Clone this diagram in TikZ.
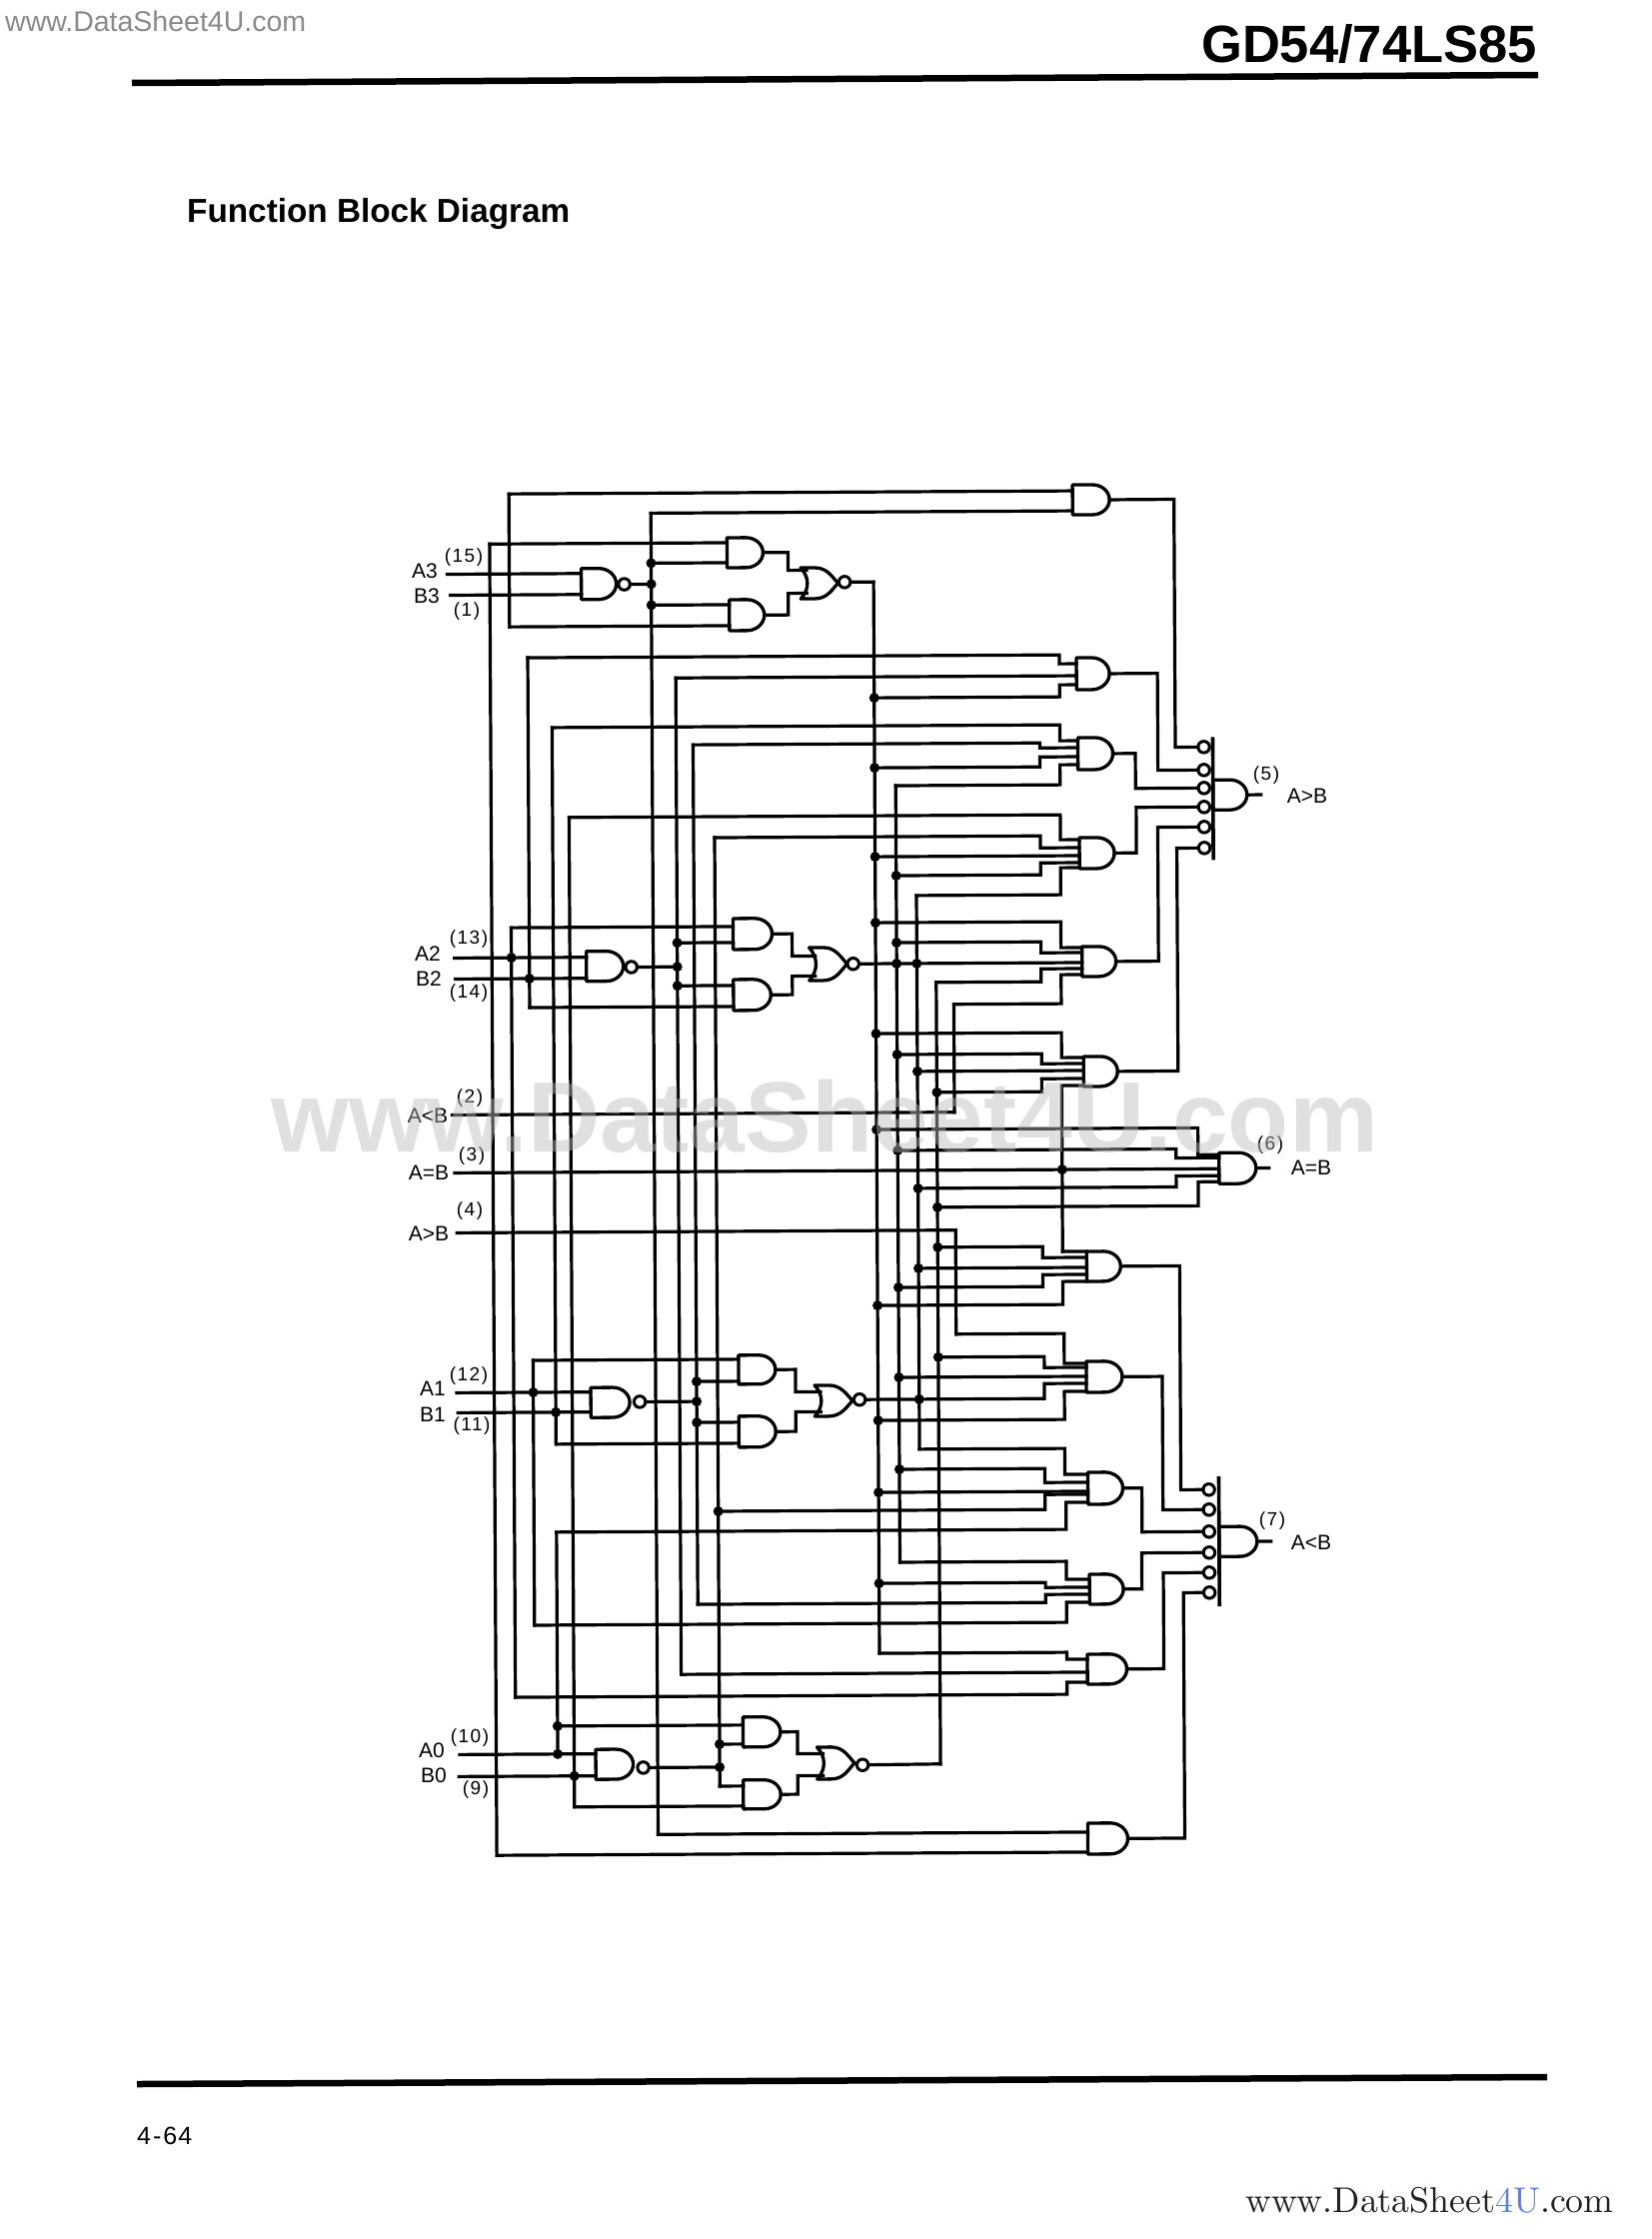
\documentclass[tikz,border=0pt]{standalone}
\usepackage{fontspec}
\newfontfamily\lib{Liberation Sans}
\definecolor{wmgray}{HTML}{BBBBBB}
\definecolor{urlgray}{HTML}{8A8A8A}
\definecolor{urldark}{HTML}{222222}
\definecolor{urlblue}{HTML}{5B7FEE}
\tikzset{
  wire/.style={line width=3.2pt,line cap=rect,line join=miter},
  gateline/.style={line width=3.3pt,line join=round},
  gatenode/.style={inner sep=0pt,outer sep=0pt},
  bub/.style={circle,draw,fill=white,line width=3pt,minimum size=11.5pt,inner sep=0pt,outer sep=0pt},
  lab/.style={font=\lib\fontsize{21}{24}\selectfont,inner sep=0pt},
  pinlab/.style={font=\lib\fontsize{19}{22}\selectfont\addfontfeature{LetterSpace=8},inner sep=0pt},
}
\newcommand\defrail[2]{\expandafter\gdef\csname rx@#1\endcsname{#2}}
\newcommand\tapc[2]{\coordinate (#1@#2) at (\csname rx@#1\endcsname,#2);}
\newcommand\rail[3]{\tapc{#1}{#2}\tapc{#1}{#3}\draw[wire] (#1@#2) -- (#1@#3);}
\newcommand\sw[3]{\tapc{#1}{#2}\coordinate (#3p#2) at (\csname gl@#3\endcsname,#2);\draw[wire] (#1@#2) -- (#3p#2);}
\newcommand\jw[5]{\tapc{#1}{#2}\coordinate (#5p#4) at (\csname gl@#5\endcsname,#4);\draw[wire] (#1@#2) -- (#3,#2) -- (#3,#4) -- (#5p#4);}
\newcommand\dt[2]{\fill (#1@#2) circle[radius=5pt];}
\newcommand\andg[5]{%
  \expandafter\gdef\csname gl@#1\endcsname{#2}%
  \pgfmathsetmacro\gm{(#3+#4)/2}%
  \expandafter\xdef\csname gm@#1\endcsname{\gm}%
  \pgfmathsetmacro\gf{#5-(#4-#3)/2-2}%
  \pgfmathsetmacro\gcx{\gf+0.55*(#5-\gf)}%
  \pgfmathsetmacro\gcu{\gm-0.55*(#4-#3)/2}%
  \pgfmathsetmacro\gcd{\gm+0.55*(#4-#3)/2}%
  \pgfmathsetmacro\gc{(#2+#5)/2}%
  \draw[gateline] (#2,#3) -- (\gf,#3) .. controls (\gcx,#3) and (#5,\gcu) .. (#5,\gm) .. controls (#5,\gcd) and (\gcx,#4) .. (\gf,#4) -- (#2,#4) -- cycle;
  \node[gatenode,minimum width={(#5-#2)*1pt},minimum height={(#4-#3)*1pt}] (#1) at (\gc,\gm) {};
}
\newcommand\norg[5]{%
  \pgfmathsetmacro\gl{#2+6}%
  \expandafter\xdef\csname gl@#1\endcsname{\gl}%
  \pgfmathsetmacro\gm{(#3+#4)/2}%
  \pgfmathsetmacro\gh{#4-#3}%
  \pgfmathsetmacro\ga{#2+9}%
  \pgfmathsetmacro\gb{#2+14}%
  \pgfmathsetmacro\gd{#2+27}%
  \pgfmathsetmacro\ge{#5-6}%
  \pgfmathsetmacro\gu{#3+0.3*\gh}%
  \pgfmathsetmacro\gv{#4-0.3*\gh}%
  \pgfmathsetmacro\gw{\gm-6}%
  \pgfmathsetmacro\gx{\gm+6}%
  \pgfmathsetmacro\gc{(#2+#5)/2}%
  \draw[gateline] (#2,#3) .. controls (\ga,\gu) and (\ga,\gv) .. (#2,#4) -- (\gb,#4) .. controls (\gd,#4) and (\ge,\gx) .. (#5,\gm) .. controls (\ge,\gw) and (\gd,#3) .. (\gb,#3) -- cycle;
  \node[gatenode,minimum width={(#5-#2)*1pt},minimum height={(#4-#3)*1pt}] (#1) at (\gc,\gm) {};
}
\newcommand\ow[4]{\draw[wire] (#1.east) -- (#2,\csname gm@#1\endcsname) -- (#2,#3) -- (#4.west);}
\newcommand\andout[4]{\draw[wire] (#1.east) -- (#2,\csname gm@#1\endcsname) -- (#2,#3) -- (#4);}
\begin{document}
\begin{tikzpicture}[x=1pt,y=-1pt]
\useasboundingbox (0,0) rectangle (1653,2240);
\fill[white] (0,0) rectangle (1653,2240);

% rails
\defrail{L}{493.5}\defrail{Ba}{513}\defrail{Bb}{513}\defrail{D}{531}\defrail{H}{532.5}
\defrail{E}{555}\defrail{Hh}{555}\defrail{F}{571.5}\defrail{C}{655}\defrail{I}{679}
\defrail{J}{696}\defrail{K}{717}\defrail{S}{877.5}\defrail{T}{898.5}\defrail{U}{918.7}
\defrail{V}{938}\defrail{W}{955.5}\defrail{Z}{956}\defrail{Y}{1063}
\defrail{iAt}{451}\defrail{iBt}{454}\defrail{iAs}{456}\defrail{iBs}{457}\defrail{iAo}{456}\defrail{iBo}{457}\defrail{iAz}{457}\defrail{iBz}{456}
\defrail{iL}{453}\defrail{iE}{455}\defrail{iG}{457}\defrail{ot}{861}\defrail{oo}{865}

\begin{scope}[rotate around={0.315:(900,1200)}]
% stage 3
\andg{N3}{585}{567}{598}{620}\node[bub] (N3b) at (628,583) {};
\andg{A3u}{731}{537}{567}{767}\andg{A3d}{733}{599}{630}{768}
\norg{O3}{804.5}{567.5}{598.5}{842}\node[bub] (O3b) at (848.5,582) {};
% stage 2
\andg{N2}{588}{950}{980}{625}\node[bub] (N2b) at (633,966) {};
\andg{A2u}{735}{918}{949}{774}\andg{A2d}{735}{979}{1010}{772.5}
\norg{O2}{811}{947.5}{980.5}{849}\node[bub] (O2b) at (855,964) {};
% stage 1
\andg{N1}{590}{1386.5}{1416.5}{629}\node[bub] (N1b) at (639,1401) {};
\andg{A1u}{738}{1355}{1384}{775}\andg{A1d}{738}{1416}{1447}{775}
\norg{O1}{814}{1385.5}{1416.5}{852}\node[bub] (O1b) at (859,1400) {};
% stage 0
\andg{N0}{593}{1748.5}{1778.5}{630.5}\node[bub] (N0b) at (640.5,1767) {};
\andg{A0u}{740.5}{1717}{1747}{778}\andg{A0d}{740.5}{1780}{1809}{778}
\norg{O0}{814.5}{1747.5}{1779.5}{852}\node[bub] (O0b) at (860,1765.5) {};
% right-hand gates
\andg{G0}{1077}{486}{516}{1114}
\andg{G1}{1080}{659}{691}{1113}
\andg{G2}{1081}{739}{771}{1116}
\andg{G3}{1082}{839}{870}{1117}
\andg{G4}{1084}{948}{978}{1118}
\andg{G5}{1085}{1058}{1088}{1119}
\andg{G6}{1220}{1155}{1186}{1257}
\andg{G7}{1087}{1253}{1283}{1121}
\andg{G8}{1086}{1363}{1394}{1122}
\andg{G9}{1087}{1474}{1506}{1122}
\andg{G10}{1088}{1576}{1606}{1122}
\andg{G11}{1085.5}{1656}{1686}{1125}
\andg{G12}{1085}{1825}{1856}{1125}
\andg{OG}{1216}{782}{812}{1250}
\andg{OL}{1218}{1529}{1559}{1256}
% output bubbles and bars
\node[bub] (P1) at (1207,749) {};\node[bub] (P2) at (1207,772) {};\node[bub] (P3) at (1207,790) {};
\node[bub] (P4) at (1207,809) {};\node[bub] (P5) at (1207,829) {};\node[bub] (P6) at (1207,850) {};
\node[bub] (Q1) at (1208,1492) {};\node[bub] (Q2) at (1208,1512) {};\node[bub] (Q3) at (1208,1534) {};
\node[bub] (Q4) at (1208,1555) {};\node[bub] (Q5) at (1208,1575) {};\node[bub] (Q6) at (1208,1595) {};
\coordinate (barGt) at (1216,739);\coordinate (barGb) at (1216,862);
\coordinate (barLt) at (1218,1479);\coordinate (barLb) at (1218,1609);
\draw[line width=3.6pt] (barGt) -- (barGb);
\draw[line width=3.6pt] (barLt) -- (barLb);
\coordinate (outG) at (1264,797);\coordinate (outE) at (1270,1170.5);\coordinate (outL) at (1270,1544);
\draw[wire] (OG.east) -- (outG);\draw[wire] (G6.east) -- (outE);\draw[wire] (OL.east) -- (outL);

% vertical rails
\rail{L}{542}{1854}\rail{Ba}{492}{625}\rail{C}{512}{1834}\rail{D}{656}{1006}\rail{E}{726}{1443}
\rail{F}{816}{1806}\rail{Bb}{926}{1696}\rail{I}{677}{1674}\rail{J}{744}{1604}\rail{K}{837}{1786}
\rail{S}{582}{1654}\rail{T}{786}{1563}\rail{U}{896}{1450}\rail{V}{983}{1765}\rail{W}{1005}{1113}
\rail{Z}{1231}{1335}\rail{H}{1359}{1624}\rail{Hh}{1531}{1753}\rail{Y}{1087}{1253}

% inputs to the four bit stages
\sw{iAt}{572}{N3}\sw{iBt}{593}{N3}
\sw{iAs}{956}{N2}\sw{iBs}{977}{N2}
\sw{iAo}{1391}{N1}\sw{iBo}{1411}{N1}
\sw{iAz}{1753}{N0}\sw{iBz}{1775}{N0}
\tapc{iL}{1113}\tapc{iG}{1231}
\draw[wire] (iL@1113) -- (W@1113);
\draw[wire] (iG@1231) -- (Z@1231);
\sw{iE}{1171}{G6}
% stage 3 wiring
\tapc{C}{583}\draw[wire] (N3b.east) -- (C@583);
\sw{L}{542}{A3u}\sw{C}{562}{A3u}\sw{C}{604}{A3d}\sw{Ba}{625}{A3d}
\coordinate (O3a) at (810.5,570);\coordinate (O3c) at (810.5,593);
\andout{A3u}{792}{570}{O3a}\andout{A3d}{792}{593}{O3c}
\draw[wire] (O3b.east) -- (S@582);
% stage 2 wiring
\tapc{I}{966}\tapc{Bb}{956}\tapc{D}{977}\draw[wire] (N2b.east) -- (I@966);
\sw{Bb}{926}{A2u}\sw{I}{942}{A2u}\sw{I}{985}{A2d}\sw{D}{1006}{A2d}
\coordinate (O2a) at (817,956);\coordinate (O2c) at (817,976);
\andout{A2u}{794}{956}{O2a}\andout{A2d}{794}{976}{O2c}
% stage 1 wiring
\tapc{J}{1401}\tapc{H}{1391}\tapc{E}{1411}\draw[wire] (N1b.east) -- (J@1401);
\sw{H}{1359}{A1u}\sw{J}{1381}{A1u}\sw{J}{1422}{A1d}\sw{E}{1443}{A1d}
\coordinate (O1a) at (820,1392);\coordinate (O1c) at (820,1412);
\andout{A1u}{795}{1392}{O1a}\andout{A1d}{795}{1412}{O1c}
% stage 0 wiring
\tapc{K}{1767}\tapc{F}{1775}\draw[wire] (N0b.east) -- (K@1767);
\sw{Hh}{1725}{A0u}\sw{K}{1744}{A0u}\sw{K}{1786}{A0d}\sw{F}{1806}{A0d}
\coordinate (O0a) at (820.5,1754);\coordinate (O0c) at (820.5,1776);
\andout{A0u}{795}{1754}{O0a}\andout{A0d}{795}{1776}{O0c}
\draw[wire] (O0b.east) -- (V@1765);

% right-hand gate inputs
\sw{Ba}{492}{G0}\sw{C}{512}{G0}
\jw{D}{656}{1063}{665}{G1}\sw{I}{677}{G1}\jw{S}{698}{1063}{686}{G1}
\jw{E}{726}{1063}{742}{G2}\jw{J}{744}{1043}{749}{G2}\jw{S}{768}{1043}{758}{G2}\jw{T}{786}{1063}{766}{G2}
\jw{F}{816}{1063}{841}{G3}\jw{K}{837}{1043}{849}{G3}\sw{S}{857}{G3}\jw{T}{876}{1043}{864}{G3}\jw{U}{896}{1063}{869}{G3}
\jw{S}{923}{1063}{949}{G4}\jw{T}{943}{1043}{954}{G4}\defrail{oS}{861}\sw{oS}{964}{G4}\jw{V}{983}{1043}{970}{G4}\jw{W}{1005}{1063}{976}{G4}
\tapc{T}{964}\tapc{U}{964}
\jw{S}{1034}{1063}{1059}{G5}\jw{T}{1055}{1043}{1065}{G5}\sw{U}{1072}{G5}\jw{V}{1093}{1043}{1080}{G5}\sw{Y}{1087}{G5}
\jw{S}{1130}{1199}{1157}{G6}\jw{T}{1151}{1177}{1160}{G6}\jw{U}{1189}{1177}{1178}{G6}\jw{V}{1208}{1199}{1184}{G6}
\tapc{Y}{1171}
\sw{Y}{1253}{G7}\jw{V}{1248}{1043}{1259}{G7}\sw{U}{1269}{G7}\jw{T}{1288}{1043}{1276}{G7}\jw{S}{1306}{1063}{1283}{G7}
\jw{Z}{1335}{1064}{1365}{G8}\jw{V}{1358}{1044}{1369}{G8}\sw{T}{1378}{G8}\jw{oo}{1400}{1044}{1385}{G8}\jw{S}{1421}{1064}{1393}{G8}
\tapc{U}{1400}
\jw{U}{1450}{1064}{1476}{G9}\jw{T}{1470}{1044}{1484}{G9}\sw{S}{1493}{G9}\jw{K}{1511}{1044}{1496}{G9}\jw{Hh}{1531}{1065}{1504}{G9}
\jw{T}{1563}{1065}{1581}{G10}\jw{S}{1584}{1044}{1589}{G10}\jw{J}{1604}{1044}{1596}{G10}\jw{H}{1624}{1065}{1604}{G10}
\jw{S}{1654}{1065}{1661}{G11}\sw{I}{1674}{G11}\jw{Bb}{1696}{1065}{1684}{G11}
\sw{C}{1834}{G12}\sw{L}{1854}{G12}

% gate outputs to the wide gates
\ow{G0}{1178.5}{749}{P1}\ow{G1}{1161}{772}{P2}\ow{G2}{1138.5}{790}{P3}
\ow{G3}{1139}{809}{P4}\ow{G4}{1160.5}{829}{P5}\ow{G5}{1179.5}{850}{P6}
\ow{G7}{1180}{1492}{Q1}\ow{G8}{1162}{1512}{Q2}\ow{G9}{1141}{1534}{Q3}
\ow{G10}{1140.5}{1555}{Q4}\ow{G11}{1162}{1575}{Q5}\ow{G12}{1182}{1595}{Q6}

% junction dots
\foreach \y in {583,562,604} {\dt{C}{\y}}
\foreach \y in {942,966,985} {\dt{I}{\y}}
\foreach \y in {1381,1401,1422} {\dt{J}{\y}}
\foreach \y in {1511,1744,1767} {\dt{K}{\y}}
\foreach \y in {1725,1753} {\dt{Hh}{\y}}
\dt{Bb}{956}\dt{D}{977}\dt{H}{1391}\dt{E}{1411}\dt{F}{1775}\dt{Y}{1171}
\foreach \y in {698,768,857,923,1034,1130,1306,1421,1493,1584} {\dt{S}{\y}}
\foreach \y in {876,943,964,1055,1151,1288,1378,1470} {\dt{T}{\y}}
\foreach \y in {964,1072,1189,1269,1400} {\dt{U}{\y}}
\foreach \y in {1093,1208,1248,1358} {\dt{V}{\y}}
\end{scope}

% labels
\node[lab] (tA3) at (425,571) {A3};\node[pinlab] (p15) at (464,558) {(15)};
\node[lab] (tB3) at (427,596) {B3};\node[pinlab] (p1) at (467,612) {(1)};
\node[lab] (tA2) at (428,954) {A2};\node[pinlab] (p13) at (469,940) {(13)};
\node[lab] (tB2) at (429,979) {B2};\node[pinlab] (p14) at (469,994) {(14)};
\node[lab] (tLi) at (428,1116) {A<B};\node[pinlab] (p2) at (470,1099) {(2)};
\node[lab] (tEi) at (429,1173) {A=B};\node[pinlab] (p3) at (472,1157) {(3)};
\node[lab] (tGi) at (429,1234) {A>B};\node[pinlab] (p4) at (470,1212) {(4)};
\node[lab] (tA1) at (433,1389) {A1};\node[pinlab] (p12) at (469,1377) {(12)};
\node[lab] (tB1) at (433,1415) {B1};\node[pinlab] (p11) at (472,1427) {(11)};
\node[lab] (tA0) at (432,1751) {A0};\node[pinlab] (p10) at (470,1739) {(10)};
\node[lab] (tB0) at (434,1776) {B0};\node[pinlab] (p9) at (476,1791) {(9)};
\node[pinlab] (p5) at (1267,776) {(5)};\node[lab] (tGo) at (1308,796) {A>B};
\node[pinlab] (p6) at (1271,1146) {(6)};\node[lab] (tEo) at (1312,1168) {A=B};
\node[pinlab] (p7) at (1273,1522) {(7)};\node[lab] (tLo) at (1312,1543) {A<B};

% page furniture
\coordinate (ruleTl) at (132,83);\coordinate (ruleTr) at (1539,75);
\coordinate (ruleBl) at (137,2085);\coordinate (ruleBr) at (1548,2078);
\draw[line width=6.5pt] (ruleTl) -- (ruleTr);
\draw[line width=6.5pt] (ruleBl) -- (ruleBr);
\node[anchor=base east,inner sep=0pt,font=\lib\bfseries\fontsize{52.5}{60}\selectfont] (title) at (1538,63) {GD54/74LS85};
\node[anchor=base west,inner sep=0pt,text=urlgray,font=\lib\fontsize{28.5}{32}\selectfont] (urltop) at (5,32) {www.DataSheet4U.com};
\node[anchor=base west,inner sep=0pt,font=\lib\bfseries\fontsize{33.3}{38}\selectfont] (heading) at (187,222) {Function Block Diagram};
\node[anchor=base west,inner sep=0pt,font=\lib\fontsize{25}{28}\selectfont] (page) at (137,2145) {4\kern2pt-\kern2pt6\kern1pt4};
\node[anchor=base west,inner sep=0pt,text=urldark] (urlbot) at (1246,2213) {\scalebox{3.58}{\fontsize{10}{12}\selectfont www.DataSheet\textcolor{urlblue}{4U}.com}};
\node[anchor=base west,inner sep=0pt,text=wmgray,opacity=0.45,font=\lib\bfseries\fontsize{100}{110}\selectfont] (watermark) at (271,1152) {www.DataSheet4U.com};
\end{tikzpicture}
\end{document}
